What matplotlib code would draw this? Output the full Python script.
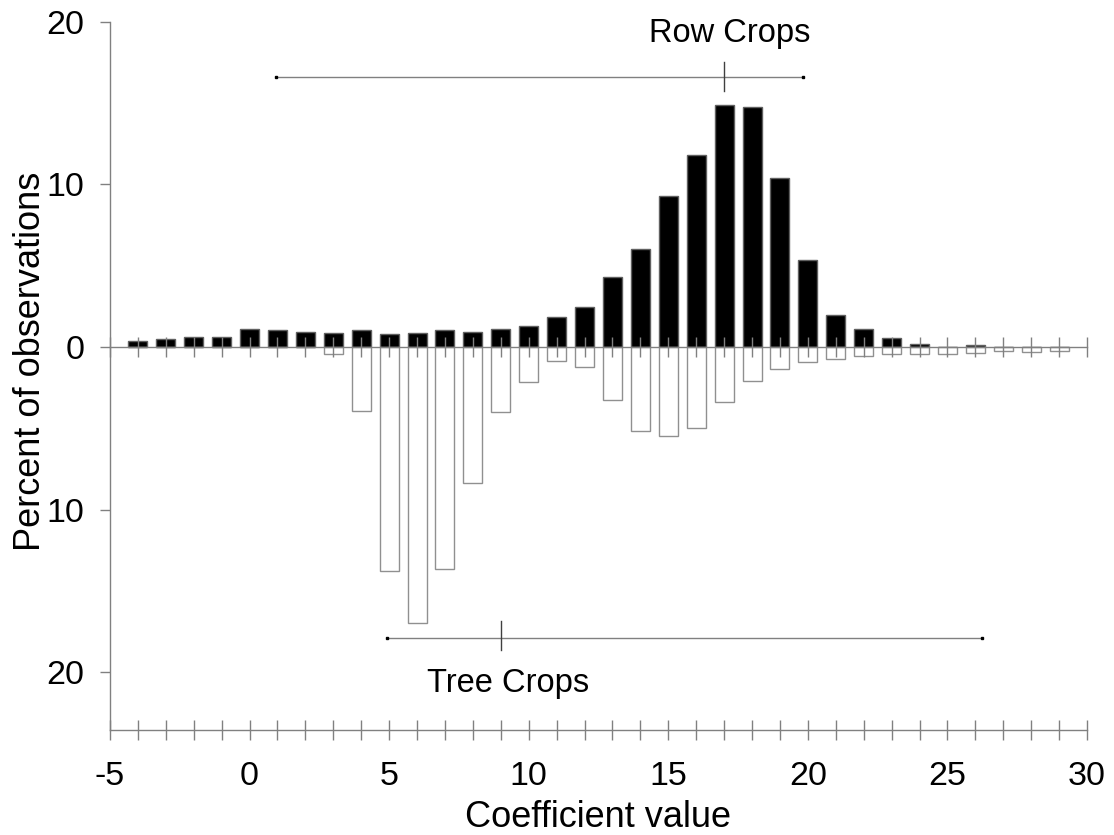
import matplotlib
matplotlib.use("Agg")
import matplotlib.pyplot as plt

plt.rcParams['font.family'] = ['Liberation Sans', 'DejaVu Sans']

# coefficient bins and percent of observations
coef = list(range(-4, 30))
row_crops = [0.39, 0.51, 0.62, 0.64, 1.1, 1.07, 0.94, 0.86, 1.05, 0.78, 0.86, 1.05,
             0.94, 1.12, 1.3, 1.83, 2.46, 4.3, 6.0, 9.27, 11.8, 14.9, 14.77, 10.4,
             5.33, 1.97, 1.09, 0.53, 0.18, 0, 0.14, 0, 0, 0]
tree_crops = [0, 0, 0, 0, 0, 0, 0, 0.43, 3.92, 13.78, 16.97, 13.68, 8.39, 3.98,
              2.15, 0.88, 1.25, 3.24, 5.17, 5.5, 4.98, 3.38, 2.07, 1.33, 0.9, 0.72,
              0.53, 0.43, 0.43, 0.43, 0.35, 0.23, 0.31, 0.23]

# range and central value marked for each group
row_range = [0.94, 19.84]
row_center = 17
tree_range = [4.91, 26.23]
tree_center = 9

yticks = [20, 10, 0, -10, -20]
ytick_labels = ['20', '10', '0', '10', '20']

fig = plt.figure(figsize=(11.14, 8.35), dpi=100)
ax = fig.add_axes([0.0987, 0.1257, 0.8771, 0.848])

gray = '#808080'
ax.bar(coef, row_crops, width=0.68, color='black', edgecolor='#606060', linewidth=1)
ax.bar(coef, [-v for v in tree_crops], width=0.68, color='white', edgecolor='#909090', linewidth=1)

ax.set_xlim(-5, 30)
ax.set_ylim(-23.57, 20)

# zero line used as a second x axis
ax.spines['top'].set_position(('data', 0))
ax.spines['right'].set_visible(False)
for s in ['top', 'left', 'bottom']:
    ax.spines[s].set_color(gray)
    ax.spines[s].set_linewidth(1)

ax.set_xticks(range(-5, 31))
ax.set_xticklabels([str(v) if v % 5 == 0 else '' for v in range(-5, 31)])
ax.tick_params(axis='x', top=True, labeltop=False, direction='inout', length=15,
               width=1, color=gray, labelsize=24.5, pad=15)
ax.set_yticks(yticks)
ax.set_yticklabels(ytick_labels)
ax.tick_params(axis='y', direction='out', length=7.5, width=1, color=gray,
               labelsize=24.5, pad=11)

ax.set_xlabel('Coefficient value', fontsize=26, va='center')
ax.xaxis.set_label_coords(0.5, -0.123)
ax.set_ylabel('Percent of observations', fontsize=26, va='center')
ax.yaxis.set_label_coords(-0.081, 0.52)

# range markers
ax.plot(row_range, [16.63, 16.63], color=gray, lw=1)
ax.plot(row_range, [16.63, 16.63], ls='none', marker='s', ms=2, color='black')
ax.plot([row_center, row_center], [15.75, 17.55], color='#404040', lw=1)
ax.text(17.2, 18.79, 'Row Crops', fontsize=23.5, ha='center', va='baseline')

ax.plot(tree_range, [-17.93, -17.93], color=gray, lw=1)
ax.plot(tree_range, [-17.93, -17.93], ls='none', marker='s', ms=2, color='black')
ax.plot([tree_center, tree_center], [-18.65, -16.86], color='#404040', lw=1)
ax.text(9.26, -21.2, 'Tree Crops', fontsize=23.5, ha='center', va='baseline')

fig.savefig('out.png', dpi=100)
